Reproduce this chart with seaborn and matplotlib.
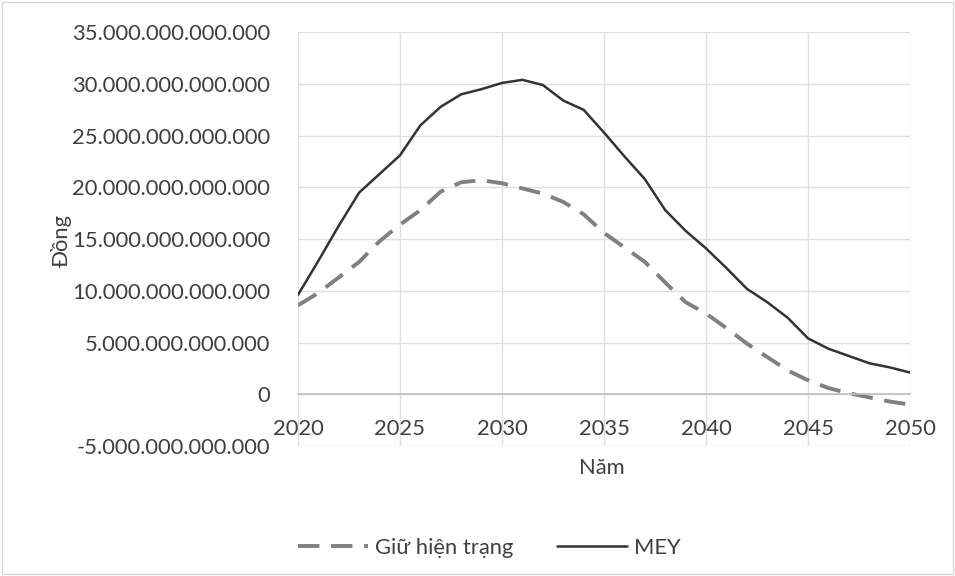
import pandas as pd
import matplotlib.pyplot as plt
import matplotlib.ticker as mticker
import seaborn as sns

# Years and values (trillion dong)
years = list(range(2020, 2051))
giu_hien_trang = [8.6, 9.8, 11.3, 12.8, 14.8, 16.4, 17.8, 19.6, 20.5, 20.7,
                  20.4, 19.9, 19.4, 18.6, 17.4, 15.6, 14.2, 12.8, 10.8, 8.9,
                  7.8, 6.4, 4.9, 3.6, 2.3, 1.35, 0.6, 0.1, -0.3, -0.7, -1.0]
mey = [9.6, 12.9, 16.3, 19.5, 21.3, 23.1, 26.0, 27.8, 29.0, 29.5,
       30.1, 30.4, 29.9, 28.4, 27.5, 25.3, 23.0, 20.8, 17.8, 15.8,
       14.1, 12.2, 10.2, 8.9, 7.4, 5.4, 4.4, 3.7, 3.0, 2.6, 2.1]

df = pd.DataFrame({
    "Năm": years,
    "Giữ hiện trạng": [v * 1e12 for v in giu_hien_trang],
    "MEY": [v * 1e12 for v in mey],
})

sns.set_style("white")
plt.rcParams["font.family"] = ["Lato", "Open Sans", "DejaVu Sans"]

fig = plt.figure(figsize=(9.55, 5.76), dpi=100)
ax = fig.add_axes([0.312, 0.2257, 0.641, 0.7183])

sns.lineplot(data=df, x="Năm", y="Giữ hiện trạng", ax=ax, color="#808080",
             linewidth=2.8, linestyle=(0, (5.5, 3)), label="Giữ hiện trạng")
sns.lineplot(data=df, x="Năm", y="MEY", ax=ax, color="#333333",
             linewidth=1.8, label="MEY")

ax.set_xlim(2020, 2050)
ax.set_ylim(-5e12, 35e12)
ax.set_xticks(range(2020, 2051, 5))
ax.set_yticks([i * 5e12 for i in range(-1, 8)])
ax.yaxis.set_major_formatter(
    mticker.FuncFormatter(lambda v, p: f"{int(round(v)):,}".replace(",", ".")))

ax.grid(True, color="#e0e0e0", linewidth=1)
for s in ["top", "right", "left"]:
    ax.spines[s].set_visible(False)
ax.spines["bottom"].set_position(("data", 0))
ax.spines["bottom"].set_color("#bfbfbf")
ax.spines["bottom"].set_linewidth(1.2)
ax.tick_params(length=0, labelsize=15.8, colors="#404040")
ax.tick_params(axis="y", pad=20)
ax.tick_params(axis="x", pad=18)

ax.set_xlabel("")
ax.set_ylabel("")
fig.text(0.064, 0.583, "Đồng", rotation=90, ha="center", va="center",
         fontsize=15.8, color="#404040")
fig.text(0.63, 0.187, "Năm", ha="center", va="center",
         fontsize=15.8, color="#404040")

ax.legend(loc="center", bbox_to_anchor=(0.512, 0.049), bbox_transform=fig.transFigure,
          ncol=2, frameon=False, fontsize=15.8, handlelength=3.2, handletextpad=0.3,
          columnspacing=2.0, labelcolor="#404040")

fig.patches.append(plt.Rectangle((0.002, 0.003), 0.996, 0.994, transform=fig.transFigure,
                                 fill=False, edgecolor="#d9d9d9", linewidth=1))

fig.savefig("out.png", dpi=100)
